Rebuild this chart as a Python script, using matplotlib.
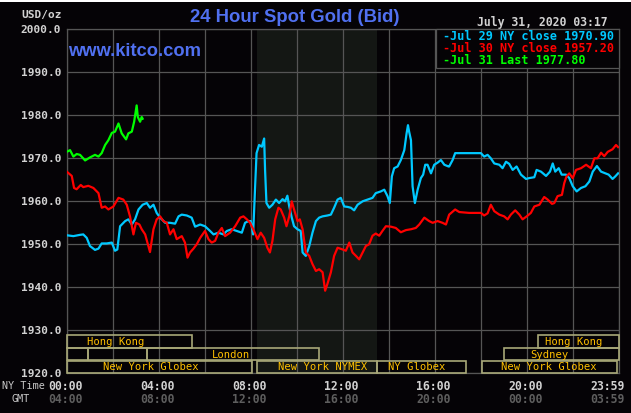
import matplotlib
matplotlib.use("Agg")
import matplotlib.pyplot as plt
from matplotlib.patches import Rectangle

# ---------------- data ----------------
green_hours = [0.0, 0.145, 0.29, 0.435, 0.58, 0.80, 1.01, 1.23, 1.38, 1.52, 1.67, 1.81, 1.96,
               2.10, 2.25, 2.39, 2.58, 2.68, 2.83, 2.93, 3.04, 3.09, 3.19, 3.26, 3.30]
green_vals = [1971.5, 1971.9, 1970.4, 1971.0, 1970.8, 1969.5, 1970.2, 1970.8, 1970.4, 1971.2,
              1973.1, 1974.2, 1975.9, 1976.2, 1978.1, 1975.8, 1974.4, 1975.8, 1976.2, 1978.5,
              1982.3, 1979.6, 1978.5, 1979.6, 1979.2]

cyan_hours = [0.0, 0.29, 0.58, 0.72, 0.87, 1.01, 1.23, 1.38, 1.52, 1.74, 1.96, 2.10, 2.20, 2.32,
              2.54, 2.68, 2.83, 2.97, 3.12, 3.30, 3.48, 3.62, 3.77, 3.91, 4.06, 4.28, 4.49, 4.71,
              4.86, 5.00, 5.22, 5.43, 5.58, 5.80, 6.01, 6.23, 6.38, 6.59, 6.81, 6.96, 7.17, 7.39,
              7.61, 7.75, 7.90,
              8.00, 8.10, 8.19, 8.25, 8.36, 8.48, 8.58, 8.62, 8.68, 8.80, 8.94, 9.09, 9.23, 9.38,
              9.49, 9.59, 9.67, 9.78, 9.88, 10.03, 10.17, 10.25, 10.39, 10.54, 10.68, 10.83,
              10.97, 11.12, 11.33, 11.48, 11.62, 11.77, 11.91, 12.06, 12.20, 12.35, 12.49, 12.64,
              12.86, 13.07, 13.29, 13.43, 13.65, 13.80, 13.94, 14.04, 14.13, 14.23, 14.38, 14.52,
              14.67, 14.77, 14.83, 14.88, 14.96, 15.03, 15.13, 15.25, 15.39, 15.49, 15.58, 15.68,
              15.83, 15.97, 16.12, 16.26, 16.41, 16.59,
              16.62, 16.77, 16.88, 17.20, 17.49, 18.00, 18.14, 18.29, 18.43, 18.58, 18.80, 18.94,
              19.09, 19.23, 19.38, 19.55, 19.74, 19.96, 20.10, 20.32, 20.42, 20.61, 20.83, 21.00,
              21.12, 21.23, 21.38, 21.51, 21.70, 21.84, 21.99, 22.16, 22.35, 22.54, 22.71, 22.86,
              23.04, 23.22, 23.41, 23.55, 23.72, 23.84, 23.96]
cyan_vals = [1952.1, 1951.9, 1952.2, 1952.3, 1951.5, 1949.6, 1948.7, 1949.0, 1950.2, 1950.2,
             1950.4, 1948.5, 1948.8, 1954.2, 1955.4, 1955.8, 1954.6, 1955.8, 1958.1, 1959.2,
             1959.6, 1958.5, 1959.2, 1957.3, 1956.2, 1955.0, 1955.0, 1954.8, 1956.5, 1956.9,
             1956.7, 1956.2, 1954.1, 1954.6, 1954.2, 1953.1, 1952.3, 1952.7, 1952.3, 1953.1,
             1953.5, 1953.1, 1952.7, 1955.0, 1955.4,
             1955.4, 1952.3, 1963.5, 1971.2, 1973.1, 1972.7, 1974.6, 1967.3, 1959.6, 1958.5,
             1959.2, 1960.4, 1959.6, 1960.5, 1960.0, 1961.3, 1958.8, 1956.2, 1954.2, 1953.5,
             1953.1, 1948.1, 1947.3, 1949.6, 1952.7, 1955.4, 1956.2, 1956.5, 1956.7, 1956.9,
             1958.5, 1960.4, 1960.8, 1958.8, 1958.7, 1958.5, 1957.9, 1959.2, 1960.0, 1960.4,
             1960.8, 1961.9, 1962.3, 1962.7, 1961.2, 1959.6, 1965.8, 1967.7, 1968.1, 1969.6,
             1971.9, 1975.8, 1977.7, 1976.2, 1974.2, 1963.5, 1959.6, 1962.7, 1965.4, 1966.2,
             1968.5, 1968.5, 1966.5, 1968.5, 1969.0, 1969.6, 1968.5, 1968.1,
             1968.1, 1969.6, 1971.2, 1971.2, 1971.2, 1971.2, 1970.4, 1970.8, 1970.0, 1968.8,
             1968.5, 1967.7, 1969.2, 1968.7, 1967.3, 1968.1, 1966.2, 1965.2, 1965.4, 1965.6,
             1967.3, 1966.9, 1965.9, 1966.9, 1968.8, 1966.9, 1967.7, 1966.2, 1966.2, 1965.4,
             1963.5, 1962.3, 1963.1, 1963.5, 1964.6, 1966.9, 1968.2, 1966.9, 1966.5, 1966.2,
             1965.2, 1965.8, 1966.5]

red_hours = [0.0, 0.22, 0.32, 0.43, 0.61, 0.72, 0.94, 1.16, 1.38, 1.52, 1.67, 1.81, 2.03, 2.25,
             2.46, 2.61, 2.75, 2.83, 2.90, 3.01, 3.16, 3.26, 3.41, 3.55, 3.62, 3.77, 3.91, 4.06,
             4.20, 4.35, 4.49, 4.64, 4.78, 5.00, 5.14, 5.25, 5.36, 5.51, 5.65, 5.80, 6.01, 6.16,
             6.30, 6.45, 6.59, 6.74, 6.88, 7.10, 7.32, 7.54, 7.68, 7.83, 7.97,
             8.14, 8.29, 8.43, 8.58, 8.72, 8.83, 8.94, 9.06, 9.20, 9.30, 9.45, 9.55, 9.67, 9.78,
             9.88, 10.03, 10.13, 10.25, 10.39, 10.54, 10.68, 10.83, 10.97, 11.12, 11.23, 11.33,
             11.48, 11.62, 11.77, 11.99, 12.13, 12.28, 12.42, 12.57, 12.71, 12.86, 13.00, 13.14,
             13.29, 13.43, 13.58, 13.72, 13.87, 14.09, 14.30, 14.52, 14.74, 14.96, 15.17, 15.32,
             15.54, 15.75, 15.90, 16.12, 16.33, 16.48,
             16.62, 16.88, 17.06, 17.49, 18.00, 18.14, 18.29, 18.43, 18.58, 18.80, 19.01, 19.16,
             19.30, 19.49, 19.67, 19.81, 19.99, 20.17, 20.32, 20.54, 20.75, 20.90, 21.09, 21.19,
             21.33, 21.52, 21.62, 21.72, 21.84, 21.99, 22.13, 22.35, 22.57, 22.78, 22.93, 23.07,
             23.22, 23.36, 23.51, 23.72, 23.87, 23.96]
red_vals = [1966.9, 1965.9, 1963.1, 1962.8, 1963.8, 1963.3, 1963.6, 1963.1, 1961.9, 1958.5,
            1958.8, 1958.1, 1958.8, 1960.8, 1960.4, 1959.2, 1956.5, 1954.2, 1952.3, 1955.0,
            1954.6, 1953.5, 1952.3, 1949.6, 1948.2, 1953.5, 1955.8, 1956.5, 1955.4, 1955.0,
            1952.3, 1953.5, 1951.2, 1951.9, 1950.4, 1946.9, 1948.1, 1949.0, 1950.0, 1951.5,
            1953.1, 1951.2, 1950.4, 1950.8, 1952.7, 1953.8, 1951.9, 1952.7, 1954.2, 1956.2,
            1956.5, 1955.8, 1955.0,
            1953.1, 1951.2, 1952.7, 1951.5, 1949.2, 1948.1, 1950.8, 1955.8, 1958.5, 1958.1,
            1956.2, 1954.2, 1956.5, 1960.0, 1958.1, 1955.4, 1955.8, 1953.5, 1948.1, 1947.3,
            1945.4, 1943.8, 1944.2, 1943.5, 1939.2, 1940.8, 1943.5, 1947.3, 1949.2, 1948.8,
            1948.5, 1950.4, 1948.1, 1947.3, 1946.5, 1948.1, 1949.6, 1950.0, 1952.0, 1952.5,
            1952.0, 1953.1, 1954.2, 1954.1, 1953.8, 1952.8, 1953.3, 1953.5, 1953.8, 1954.6,
            1956.2, 1955.4, 1955.0, 1955.4, 1955.0, 1954.6,
            1956.9, 1958.1, 1957.5, 1957.3, 1957.3, 1956.7, 1957.2, 1959.2, 1957.7, 1956.9,
            1956.5, 1955.8, 1956.9, 1957.9, 1956.9, 1955.8, 1956.5, 1957.3, 1958.8, 1959.2,
            1961.0, 1960.4, 1959.4, 1959.6, 1961.2, 1961.5, 1964.2, 1965.8, 1966.5, 1965.4,
            1967.3, 1967.7, 1968.5, 1967.7, 1970.0, 1970.0, 1971.3, 1970.5, 1971.5, 1972.1,
            1973.1, 1972.6]

y_ticks = [1920, 1930, 1940, 1950, 1960, 1970, 1980, 1990, 2000]
time_ticks = [0, 4, 8, 12, 16, 20, 24]
ny_labels = ["00:00", "04:00", "08:00", "12:00", "16:00", "20:00", "23:59"]
gmt_labels = ["04:00", "08:00", "12:00", "16:00", "20:00", "00:00", "03:59"]

legend_labels = ["-Jul 29 NY close 1970.90", "-Jul 30 NY close 1957.20", "-Jul 31 Last 1977.80"]

# market sessions: (label, start hour, end hour, row, label hour)
sessions = [("Hong Kong", 0.0, 5.46, 0, 2.11), ("Hong Kong", 20.5, 24.0, 0, 22.05),
            ("", 0.0, 0.94, 1, 0), ("", 0.94, 3.47, 1, 0), ("London", 3.47, 10.95, 1, 7.15),
            ("Sydney", 19.0, 24.0, 1, 20.98),
            ("New York Globex", 0.0, 8.05, 2, 3.66), ("New York NYMEX", 8.25, 13.5, 2, 11.1),
            ("NY Globex", 13.5, 17.33, 2, 15.2), ("New York Globex", 18.03, 23.93, 2, 20.97)]
nymex_start, nymex_end = 8.25, 13.5

# ---------------- styling ----------------
W, H = 631, 413
BG = "#050306"
GRID = "#555555"
CYAN = "#00c8ff"
RED = "#ff0000"
GREEN = "#00ff00"
BLUE = "#5070f0"
LIGHT = "#d2d2d2"
DIM = "#5e5e5e"
MONO = "DejaVu Sans Mono"

def fx(x):
    return x / W

def fy(y):
    return 1 - y / H

fig = plt.figure(figsize=(W / 100, H / 100), dpi=100, facecolor=BG)
x0, x1, y0, y1 = 66.7, 619.0, 29.3, 373.3
ax = fig.add_axes([fx(x0), fy(y1), (x1 - x0) / W, (y1 - y0) / H])
ax.set_facecolor(BG)
ax.set_xlim(0, 24)
ax.set_ylim(1920, 2000)

ax.axvspan(nymex_start, nymex_end, color="#141714", zorder=0, lw=0)

ax.set_xticks(range(0, 25, 2))
ax.set_yticks(y_ticks)
ax.grid(True, color=GRID, lw=0.9, zorder=1)
ax.tick_params(length=0, pad=4)
ax.set_xticklabels([])
ax.set_yticklabels([f"{v:.1f}" for v in y_ticks], family=MONO, weight="bold",
                   fontsize=8, color=LIGHT)
for s in ax.spines.values():
    s.set_color(GRID)
    s.set_linewidth(0.9)

ax.plot(cyan_hours, cyan_vals, color=CYAN, lw=1.6, zorder=4)
ax.plot(red_hours, red_vals, color=RED, lw=1.6, zorder=4)
ax.plot(green_hours, green_vals, color=GREEN, lw=1.6, zorder=5)

# market session boxes
rows = [(1926.0, 1928.9), (1923.0, 1925.9), (1920.15, 1922.8)]
BOXC = "#a8a878"
TXTC = "#ffc000"
for label, s0, s1, r, lh in sessions:
    lo, hi = rows[r]
    ax.add_patch(Rectangle((s0, lo), s1 - s0, hi - lo, fill=False, ec=BOXC, lw=1.2,
                           zorder=3, clip_on=False))
    if label:
        ax.text(lh, (lo + hi) / 2 - 0.1, label, ha="center", va="center",
                family=MONO, fontsize=7.6, color=TXTC, zorder=6)

# legend box
lx0, lx1, ly0, ly1 = 435.7, 619.0, 29.3, 68.3
fig.patches.append(Rectangle((fx(lx0), fy(ly1)), (lx1 - lx0) / W, (ly1 - ly0) / H,
                             transform=fig.transFigure, facecolor="#050306", edgecolor=GRID,
                             lw=0.9, zorder=10))
for lab, col, yy in zip(legend_labels, [CYAN, RED, GREEN], [36.5, 48.5, 61.0]):
    fig.text(fx(442.5), fy(yy), lab, ha="left", va="center", family=MONO, weight="bold",
             fontsize=8.5, color=col, zorder=11)

# time labels
for t, a, b in zip(time_ticks, ny_labels, gmt_labels):
    xp = x0 + (x1 - x0) * t / 24 - 1.5
    ha = "center"
    if t == 24:
        xp, ha = 624.5, "right"
    fig.text(fx(xp), fy(386), a, ha=ha, va="center", family=MONO, weight="bold",
             fontsize=8.3, color=LIGHT)
    fig.text(fx(xp), fy(399.5), b, ha=ha, va="center", family=MONO, weight="bold",
             fontsize=8.3, color=DIM)
fig.text(fx(2.5), fy(386), "NY Time", ha="left", va="center", family=MONO,
         fontsize=7.3, color="#c8c8c8")
fig.text(fx(11), fy(399), "GMT", ha="left", va="center", family=MONO,
         fontsize=7.3, color="#c8c8c8")

# header texts
fig.text(fx(61.5), fy(15), "USD/oz", ha="right", va="center", family=MONO, weight="bold",
         fontsize=8, color=LIGHT)
fig.text(fx(294.5), fy(17.5), "24 Hour Spot Gold (Bid)", ha="center", va="center",
         family="Liberation Sans", weight="bold", fontsize=13.3, color=BLUE)
fig.text(fx(68), fy(51), "www.kitco.com", ha="left", va="center",
         family="Liberation Sans", weight="bold", fontsize=13.2, color=BLUE)
fig.text(fx(607.5), fy(22.5), "July 31, 2020 03:17", ha="right", va="center", family=MONO,
         weight="bold", fontsize=8.3, color=LIGHT)

# thin white strip at the very top
fig.patches.append(Rectangle((0, fy(2)), 1, 2 / H, transform=fig.transFigure,
                             facecolor="white", edgecolor="none", zorder=20))

fig.savefig("out.png", dpi=100, facecolor=BG)
